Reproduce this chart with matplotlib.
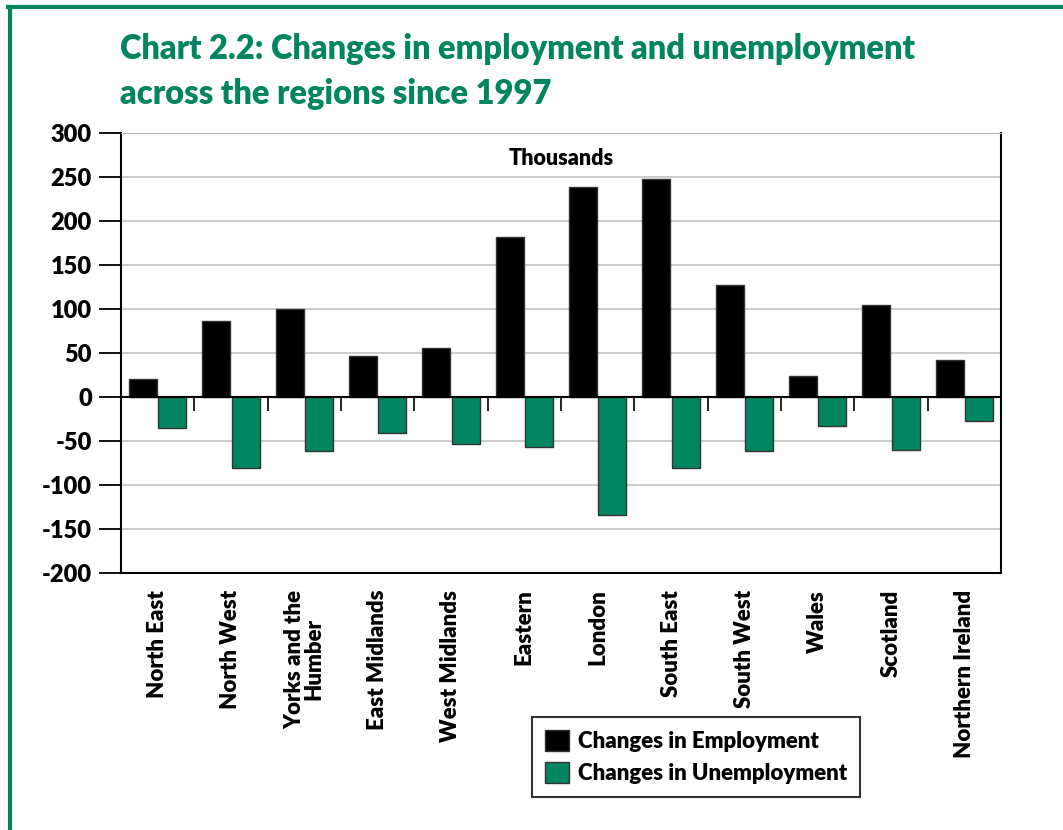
import numpy as np
import matplotlib.pyplot as plt
from matplotlib.lines import Line2D

regions = ['North East', 'North West', 'Yorks and the\nHumber', 'East Midlands',
           'West Midlands', 'Eastern', 'London', 'South East', 'South West',
           'Wales', 'Scotland', 'Northern Ireland']
employment = [20, 86, 100, 47, 56, 182, 239, 248, 127, 24, 105, 42]
unemployment = [-35, -81, -61, -41, -53, -57, -134, -81, -61, -33, -60, -27]

GREEN = '#00855f'
plt.rcParams['font.family'] = ['Lato', 'DejaVu Sans']
plt.rcParams['font.weight'] = 'heavy'
plt.rcParams['axes.unicode_minus'] = False

fig = plt.figure(figsize=(10.63, 8.3), dpi=100)
ax = fig.add_axes([0.1138, 0.3096, 0.8279, 0.5302])

x = np.arange(len(regions))
w = 0.38
ax.bar(x - 0.2, employment, w, color='black', edgecolor='#333333', linewidth=1,
       label='Changes in Employment', zorder=3)
ax.bar(x + 0.2, unemployment, w, color=GREEN, edgecolor='#333333', linewidth=1,
       label='Changes in Unemployment', zorder=3)

ymin, ymax = -200, 300
ax.set_ylim(ymin, ymax)
ax.set_xlim(-0.5, len(regions) - 0.5)
ax.set_yticks(np.arange(ymin, ymax + 1, 50))
ax.yaxis.grid(True, color='#cccccc', linewidth=1.5, zorder=0)
ax.set_axisbelow(True)

ax.set_xticks(x)
ax.set_xticklabels(regions, rotation=90, fontsize=16, fontweight='heavy',
                   linespacing=0.85)
ax.tick_params(axis='x', length=0, pad=12)
ax.tick_params(axis='y', length=16, width=1.3, labelsize=17, pad=5)
for lab in ax.get_yticklabels():
    lab.set_fontweight('heavy')

ax.spines['top'].set_color('#bbbbbb')
for s in ['left', 'right', 'bottom']:
    ax.spines[s].set_linewidth(1.5)

# zero line with group separators
bounds = np.arange(len(regions) + 1) - 0.5
ax.axhline(0, color='black', linewidth=1.5, zorder=4)
ax.plot(bounds, np.zeros(len(bounds)), ls='none', marker=3, markersize=10,
        markeredgewidth=1.2, color='black', clip_on=False, zorder=4)

ax.text(0.5, 0.943, 'Thousands', transform=ax.transAxes, ha='center', va='center',
        fontsize=15.5, fontweight='heavy')

fig.text(0.113, 0.96, 'Chart 2.2: Changes in employment and unemployment\nacross the regions since 1997',
         color=GREEN, fontsize=23.5, fontweight='heavy', ha='left', va='top', linespacing=1.5)

leg = fig.legend(loc='upper left', bbox_to_anchor=(0.5005, 0.1361), fontsize=16,
                 frameon=True, fancybox=False, edgecolor='black', handlelength=1.05,
                 handleheight=1.05, handletextpad=0.4, borderpad=0.6, labelspacing=0.45,
                 borderaxespad=0)
leg.get_frame().set_linewidth(1.5)
for t in leg.get_texts():
    t.set_fontweight('heavy')

# green frame
fig.add_artist(Line2D([9.5 / 1063, 9.5 / 1063], [0, 1 - 7.5 / 830], color=GREEN,
                      linewidth=3, transform=fig.transFigure))
fig.add_artist(Line2D([8 / 1063, 1], [1 - 7.5 / 830, 1 - 7.5 / 830], color=GREEN,
                      linewidth=3, transform=fig.transFigure))

fig.savefig('out.png', dpi=100)
